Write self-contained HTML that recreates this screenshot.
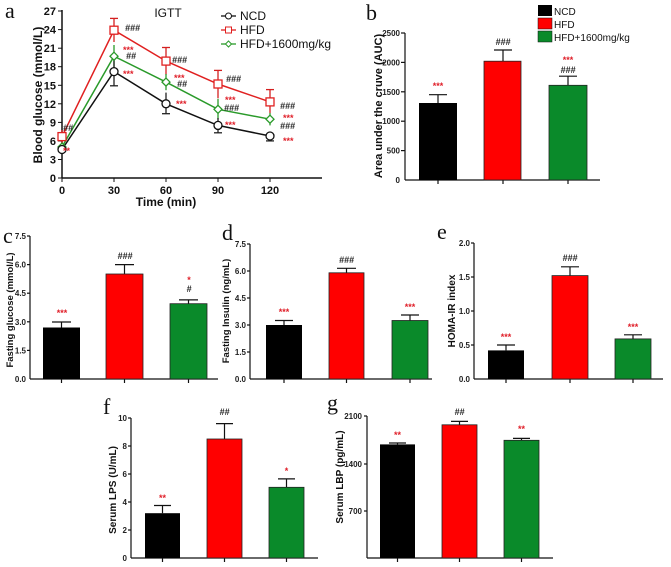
<!DOCTYPE html>
<html><head><meta charset="utf-8"><style>
html,body{margin:0;padding:0;background:#fff;}
svg{display:block;font-family:"Liberation Sans",Arial,sans-serif;}
.t{font-size:8px;font-weight:bold;fill:#222;}
.ta{font-size:11px;font-weight:bold;fill:#111;}
.lab{font-family:"Liberation Serif",serif;font-size:22px;fill:#111;}
.r{fill:#e0202a;font-size:9px;font-weight:bold;}
.k{fill:#222;font-size:9px;font-weight:bold;font-style:italic;}
</style></head><body>
<svg width="671" height="567" viewBox="0 0 671 567">
<!-- Panel a -->
<text class="lab" x="5" y="18">a</text>
<text x="168" y="17" font-size="12" fill="#111" text-anchor="middle">IGTT</text>
<g stroke="#111" stroke-width="1.5" fill="none">
<line x1="62" y1="10" x2="62" y2="178"/><line x1="62" y1="178" x2="322" y2="178"/>
</g>
<g stroke="#111" stroke-width="1">
<line x1="58" y1="11" x2="62" y2="11"/><line x1="58" y1="29.6" x2="62" y2="29.6"/><line x1="58" y1="48.2" x2="62" y2="48.2"/><line x1="58" y1="66.7" x2="62" y2="66.7"/><line x1="58" y1="85.3" x2="62" y2="85.3"/><line x1="58" y1="103.8" x2="62" y2="103.8"/><line x1="58" y1="122.4" x2="62" y2="122.4"/><line x1="58" y1="141" x2="62" y2="141"/><line x1="58" y1="159.5" x2="62" y2="159.5"/><line x1="58" y1="178" x2="62" y2="178"/>
<line x1="62" y1="178" x2="62" y2="182"/><line x1="114" y1="178" x2="114" y2="182"/><line x1="166" y1="178" x2="166" y2="182"/><line x1="218" y1="178" x2="218" y2="182"/><line x1="270" y1="178" x2="270" y2="182"/>
</g>
<g class="ta" text-anchor="end">
<text x="56" y="15">27</text><text x="56" y="33.6">24</text><text x="56" y="52.2">21</text><text x="56" y="70.7">18</text><text x="56" y="89.3">15</text><text x="56" y="107.8">12</text><text x="56" y="126.4">9</text><text x="56" y="145">6</text><text x="56" y="163.5">3</text><text x="56" y="182">0</text>
</g>
<g class="ta" text-anchor="middle">
<text x="62" y="194">0</text><text x="114" y="194">30</text><text x="166" y="194">60</text><text x="218" y="194">90</text><text x="270" y="194">120</text>
</g>
<text x="166" y="206" font-size="12" font-weight="bold" text-anchor="middle" fill="#111">Time (min)</text>
<text transform="translate(42,95) rotate(-90)" font-size="12" font-weight="bold" text-anchor="middle" fill="#111">Blood glucose (mmol/L)</text>
<g stroke="#d42020" stroke-width="1.3">
<line x1="114" y1="18.4" x2="114" y2="42"/><line x1="110" y1="18.4" x2="118" y2="18.4"/>
<line x1="166" y1="47.5" x2="166" y2="74.7"/><line x1="162" y1="47.5" x2="170" y2="47.5"/>
<line x1="218" y1="70.4" x2="218" y2="98.2"/><line x1="214" y1="70.4" x2="222" y2="70.4"/>
<line x1="270" y1="89.6" x2="270" y2="113"/><line x1="266" y1="89.6" x2="274" y2="89.6"/>
<line x1="62" y1="130" x2="62" y2="143"/>
</g>
<g stroke="#2a9a2a" stroke-width="1.3">
<line x1="114" y1="45" x2="114" y2="66.7"/><line x1="166" y1="74" x2="166" y2="90.2"/><line x1="218" y1="98.8" x2="218" y2="119.2"/><line x1="270" y1="113" x2="270" y2="125.4"/>
</g>
<g stroke="#222" stroke-width="1.3">
<line x1="114" y1="56.8" x2="114" y2="85.8"/><line x1="110" y1="85.8" x2="118" y2="85.8"/>
<line x1="166" y1="92.6" x2="166" y2="113.7"/><line x1="162" y1="113.7" x2="170" y2="113.7"/>
<line x1="218" y1="118" x2="218" y2="132.8"/><line x1="214" y1="132.8" x2="222" y2="132.8"/>
<line x1="270" y1="132.2" x2="270" y2="140.9"/><line x1="266" y1="140.9" x2="274" y2="140.9"/>
</g>
<polyline points="62,136.6 114,30.2 166,61.1 218,84 270,101.9" fill="none" stroke="#e02020" stroke-width="1.5"/>
<polyline points="62,147 114,56.2 166,82.1 218,109.3 270,119.2" fill="none" stroke="#2a9a2a" stroke-width="1.5"/>
<polyline points="62,149.5 114,71.6 166,103.8 218,125.4 270,136" fill="none" stroke="#111" stroke-width="1.5"/>
<g fill="#fff" stroke="#e02020" stroke-width="1.3">
<rect x="58" y="132.6" width="8" height="8"/><rect x="110" y="26.2" width="8" height="8"/><rect x="162" y="57.1" width="8" height="8"/><rect x="214" y="80" width="8" height="8"/><rect x="266" y="97.9" width="8" height="8"/>
</g>
<g fill="#fff" stroke="#2a9a2a" stroke-width="1.3">
<polygon points="62,143 66,147 62,151 58,147"/><polygon points="114,52.2 118,56.2 114,60.2 110,56.2"/><polygon points="166,78.1 170,82.1 166,86.1 162,82.1"/><polygon points="218,105.3 222,109.3 218,113.3 214,109.3"/><polygon points="270,115.2 274,119.2 270,123.2 266,119.2"/>
</g>
<g fill="#fff" stroke="#111" stroke-width="1.3">
<circle cx="62" cy="149.5" r="4"/><circle cx="114" cy="71.6" r="4"/><circle cx="166" cy="103.8" r="4"/><circle cx="218" cy="125.4" r="4"/><circle cx="270" cy="136" r="4"/>
</g>
<text class="k" x="125" y="31">###</text>
<text class="r" x="123" y="53">***</text>
<text class="k" x="126" y="59">##</text>
<text class="r" x="123" y="77">***</text>
<text class="k" x="172" y="63">###</text>
<text class="r" x="174" y="81">***</text>
<text class="k" x="177" y="87">##</text>
<text class="r" x="176" y="107">***</text>
<text class="k" x="226" y="82">###</text>
<text class="r" x="225" y="103">***</text>
<text class="k" x="224" y="111">###</text>
<text class="r" x="225" y="128">***</text>
<text class="k" x="280" y="109" font-size="10">###</text>
<text class="r" x="283" y="121">***</text>
<text class="k" x="280" y="129" font-size="10">###</text>
<text class="r" x="283" y="144">***</text>
<text class="k" x="63" y="131">##</text>
<text class="r" x="63" y="154">**</text>
<line x1="221" y1="16" x2="236" y2="16" stroke="#111" stroke-width="1.3"/><circle cx="228.5" cy="16" r="3" fill="#fff" stroke="#111"/>
<text x="240" y="20" font-size="12" fill="#111">NCD</text>
<line x1="221" y1="30" x2="236" y2="30" stroke="#e02020" stroke-width="1.3"/><rect x="225.5" y="27" width="6" height="6" fill="#fff" stroke="#e02020"/>
<text x="240" y="34" font-size="12" fill="#111">HFD</text>
<line x1="221" y1="44" x2="236" y2="44" stroke="#2a9a2a" stroke-width="1.3"/><polygon points="228.5,41 231.5,44 228.5,47 225.5,44" fill="#fff" stroke="#2a9a2a"/>
<text x="240" y="48" font-size="12" fill="#111">HFD+1600mg/kg</text>

<!-- Panel b -->
<text class="lab" x="366" y="20">b</text>
<rect x="538" y="5" width="14" height="11" fill="#000"/><text x="554" y="15" font-size="10" fill="#111">NCD</text>
<rect x="538" y="18" width="14" height="11" fill="#f00" stroke="#111" stroke-width="0.5"/><text x="554" y="28" font-size="10" fill="#111">HFD</text>
<rect x="538" y="31" width="14" height="11" fill="#0a8a2a" stroke="#111" stroke-width="0.5"/><text x="554" y="41" font-size="10" fill="#111">HFD+1600mg/kg</text>
<g stroke="#111" stroke-width="1.2">
<line x1="405" y1="33" x2="405" y2="180"/><line x1="405" y1="180" x2="600" y2="180"/>
<line x1="401" y1="33" x2="405" y2="33"/><line x1="401" y1="62.4" x2="405" y2="62.4"/><line x1="401" y1="91.8" x2="405" y2="91.8"/><line x1="401" y1="121.2" x2="405" y2="121.2"/><line x1="401" y1="150.6" x2="405" y2="150.6"/>
<line x1="438" y1="180" x2="438" y2="184"/><line x1="503" y1="180" x2="503" y2="184"/><line x1="568" y1="180" x2="568" y2="184"/>
<line x1="438" y1="94.7" x2="438" y2="103"/><line x1="429" y1="94.7" x2="447" y2="94.7"/>
<line x1="503" y1="50" x2="503" y2="61.2"/><line x1="494" y1="50" x2="512" y2="50"/>
<line x1="568" y1="76.2" x2="568" y2="85.3"/><line x1="559" y1="76.2" x2="577" y2="76.2"/>
</g>
<g class="t" text-anchor="end">
<text x="400" y="36">2500</text><text x="400" y="65.4">2000</text><text x="400" y="94.8">1500</text><text x="400" y="124.2">1000</text><text x="400" y="153.6">500</text><text x="400" y="183">0</text>
</g>
<rect x="419" y="103" width="38" height="77" fill="#000"/>
<rect x="484" y="61.2" width="37" height="118.8" fill="#f00" stroke="#222" stroke-width="0.8"/>
<rect x="549" y="85.3" width="38" height="94.7" fill="#0a8a2a" stroke="#222" stroke-width="0.8"/>
<text class="r" x="438" y="89" text-anchor="middle">***</text>
<text class="k" x="503" y="45" text-anchor="middle" font-size="10">###</text>
<text class="r" x="568" y="63" text-anchor="middle">***</text>
<text class="k" x="568" y="73" text-anchor="middle" font-size="10">###</text>
<text transform="translate(382,106) rotate(-90)" font-size="11" font-weight="bold" text-anchor="middle" fill="#111">Area under the cruve (AUC)</text>

<!-- Panel c -->
<text class="lab" x="3" y="243">c</text>
<g stroke="#111" stroke-width="1.2">
<line x1="30" y1="236" x2="30" y2="379"/><line x1="30" y1="379" x2="218" y2="379"/>
<line x1="27" y1="236" x2="30" y2="236"/><line x1="27" y1="264.6" x2="30" y2="264.6"/><line x1="27" y1="293.2" x2="30" y2="293.2"/><line x1="27" y1="321.8" x2="30" y2="321.8"/><line x1="27" y1="350.4" x2="30" y2="350.4"/>
<line x1="61.5" y1="379" x2="61.5" y2="383"/><line x1="124.5" y1="379" x2="124.5" y2="383"/><line x1="188.5" y1="379" x2="188.5" y2="383"/>
<line x1="61.5" y1="322" x2="61.5" y2="327.5"/><line x1="52" y1="322" x2="71" y2="322"/>
<line x1="124.5" y1="264.6" x2="124.5" y2="274"/><line x1="115" y1="264.6" x2="134" y2="264.6"/>
<line x1="188.5" y1="299.9" x2="188.5" y2="303.7"/><line x1="179" y1="299.9" x2="198" y2="299.9"/>
</g>
<g class="t" text-anchor="end">
<text x="26" y="239">7.5</text><text x="26" y="267.6">6.0</text><text x="26" y="296.2">4.5</text><text x="26" y="324.8">3.0</text><text x="26" y="353.4">1.5</text><text x="26" y="382">0.0</text>
</g>
<rect x="43" y="327.5" width="37" height="51.5" fill="#000"/>
<rect x="106" y="274" width="37" height="105" fill="#f00" stroke="#222" stroke-width="0.8"/>
<rect x="170" y="303.7" width="37" height="75.3" fill="#0a8a2a" stroke="#222" stroke-width="0.8"/>
<text class="r" x="62" y="316" text-anchor="middle">***</text>
<text class="k" x="125" y="259" text-anchor="middle" font-size="10">###</text>
<text class="r" x="189" y="283" text-anchor="middle">*</text>
<text class="k" x="189" y="292" text-anchor="middle" font-size="10">#</text>
<text transform="translate(13,310) rotate(-90)" font-size="9.5" font-weight="bold" text-anchor="middle" fill="#111">Fasting glucose (mmol/L)</text>

<!-- Panel d -->
<text class="lab" x="222" y="240">d</text>
<g stroke="#111" stroke-width="1.2">
<line x1="250" y1="244" x2="250" y2="379"/><line x1="250" y1="379" x2="432" y2="379"/>
<line x1="247" y1="244" x2="250" y2="244"/><line x1="247" y1="271" x2="250" y2="271"/><line x1="247" y1="298" x2="250" y2="298"/><line x1="247" y1="325" x2="250" y2="325"/><line x1="247" y1="352" x2="250" y2="352"/>
<line x1="284" y1="379" x2="284" y2="383"/><line x1="346.5" y1="379" x2="346.5" y2="383"/><line x1="410" y1="379" x2="410" y2="383"/>
<line x1="284" y1="320.5" x2="284" y2="325"/><line x1="275" y1="320.5" x2="293" y2="320.5"/>
<line x1="346.5" y1="268.3" x2="346.5" y2="272.8"/><line x1="337" y1="268.3" x2="356" y2="268.3"/>
<line x1="410" y1="315" x2="410" y2="320.5"/><line x1="401" y1="315" x2="419" y2="315"/>
</g>
<g class="t" text-anchor="end">
<text x="246" y="247">7.5</text><text x="246" y="274">6.0</text><text x="246" y="301">4.5</text><text x="246" y="328">3.0</text><text x="246" y="355">1.5</text><text x="246" y="382">0.0</text>
</g>
<rect x="266" y="325" width="36" height="54" fill="#000"/>
<rect x="329" y="272.8" width="35" height="106.2" fill="#f00" stroke="#222" stroke-width="0.8"/>
<rect x="392" y="320.5" width="36" height="58.5" fill="#0a8a2a" stroke="#222" stroke-width="0.8"/>
<text class="r" x="284" y="315" text-anchor="middle">***</text>
<text class="k" x="346.5" y="263" text-anchor="middle" font-size="10">###</text>
<text class="r" x="410" y="310" text-anchor="middle">***</text>
<text transform="translate(229,311) rotate(-90)" font-size="9.5" font-weight="bold" text-anchor="middle" fill="#111">Fasting Insulin (ng/mL)</text>

<!-- Panel e -->
<text class="lab" x="437" y="239">e</text>
<g stroke="#111" stroke-width="1.2">
<line x1="474" y1="243" x2="474" y2="379"/><line x1="474" y1="379" x2="663" y2="379"/>
<line x1="471" y1="243" x2="474" y2="243"/><line x1="471" y1="277" x2="474" y2="277"/><line x1="471" y1="311" x2="474" y2="311"/><line x1="471" y1="345" x2="474" y2="345"/>
<line x1="506" y1="379" x2="506" y2="383"/><line x1="570" y1="379" x2="570" y2="383"/><line x1="633" y1="379" x2="633" y2="383"/>
<line x1="506" y1="345" x2="506" y2="350.4"/><line x1="497" y1="345" x2="515" y2="345"/>
<line x1="570" y1="266.8" x2="570" y2="275.6"/><line x1="561" y1="266.8" x2="579" y2="266.8"/>
<line x1="633" y1="334.8" x2="633" y2="338.9"/><line x1="624" y1="334.8" x2="642" y2="334.8"/>
</g>
<g class="t" text-anchor="end">
<text x="470" y="246">2.0</text><text x="470" y="280">1.5</text><text x="470" y="314">1.0</text><text x="470" y="348">0.5</text><text x="470" y="382">0.0</text>
</g>
<rect x="488" y="350.4" width="36" height="28.6" fill="#000"/>
<rect x="552" y="275.6" width="36" height="103.4" fill="#f00" stroke="#222" stroke-width="0.8"/>
<rect x="615" y="338.9" width="36" height="40.1" fill="#0a8a2a" stroke="#222" stroke-width="0.8"/>
<text class="r" x="506" y="340" text-anchor="middle">***</text>
<text class="k" x="570" y="261" text-anchor="middle" font-size="10">###</text>
<text class="r" x="633" y="330" text-anchor="middle">***</text>
<text transform="translate(455,311) rotate(-90)" font-size="10" font-weight="bold" text-anchor="middle" fill="#111">HOMA-IR index</text>

<!-- Panel f -->
<text class="lab" x="103" y="414">f</text>
<g stroke="#111" stroke-width="1.2">
<line x1="131" y1="418" x2="131" y2="558"/><line x1="131" y1="558" x2="318" y2="558"/>
<line x1="128" y1="418" x2="131" y2="418"/><line x1="128" y1="446" x2="131" y2="446"/><line x1="128" y1="474" x2="131" y2="474"/><line x1="128" y1="502" x2="131" y2="502"/><line x1="128" y1="530" x2="131" y2="530"/>
<line x1="162.5" y1="558" x2="162.5" y2="562"/><line x1="224.5" y1="558" x2="224.5" y2="562"/><line x1="286.5" y1="558" x2="286.5" y2="562"/>
<line x1="162.5" y1="505.5" x2="162.5" y2="513.2"/><line x1="154" y1="505.5" x2="171" y2="505.5"/>
<line x1="224.5" y1="423.6" x2="224.5" y2="439"/><line x1="216" y1="423.6" x2="233" y2="423.6"/>
<line x1="286.5" y1="478.9" x2="286.5" y2="487.3"/><line x1="278" y1="478.9" x2="295" y2="478.9"/>
</g>
<g class="t" text-anchor="end">
<text x="127" y="421">10</text><text x="127" y="449">8</text><text x="127" y="477">6</text><text x="127" y="505">4</text><text x="127" y="533">2</text><text x="127" y="561">0</text>
</g>
<rect x="145" y="513.2" width="35" height="44.8" fill="#000"/>
<rect x="207" y="439" width="35" height="119" fill="#f00" stroke="#222" stroke-width="0.8"/>
<rect x="269" y="487.3" width="35" height="70.7" fill="#0a8a2a" stroke="#222" stroke-width="0.8"/>
<text class="r" x="162.5" y="501" text-anchor="middle">**</text>
<text class="k" x="224.5" y="415" text-anchor="middle" font-size="10">##</text>
<text class="r" x="286.5" y="474" text-anchor="middle">*</text>
<text transform="translate(116,490) rotate(-90)" font-size="10" font-weight="bold" text-anchor="middle" fill="#111">Serum LPS (U/mL)</text>

<!-- Panel g -->
<text class="lab" x="327" y="410">g</text>
<g stroke="#111" stroke-width="1.2">
<line x1="367" y1="416" x2="367" y2="558"/><line x1="367" y1="558" x2="553" y2="558"/>
<line x1="364" y1="416" x2="367" y2="416"/><line x1="364" y1="464" x2="367" y2="464"/><line x1="364" y1="511" x2="367" y2="511"/>
<line x1="397.5" y1="558" x2="397.5" y2="562"/><line x1="459.5" y1="558" x2="459.5" y2="562"/><line x1="521.5" y1="558" x2="521.5" y2="562"/>
<line x1="397.5" y1="443" x2="397.5" y2="444.4"/><line x1="389" y1="443" x2="406" y2="443"/>
<line x1="459.5" y1="421.4" x2="459.5" y2="424.8"/><line x1="451" y1="421.4" x2="468" y2="421.4"/>
<line x1="521.5" y1="438.4" x2="521.5" y2="440.3"/><line x1="513" y1="438.4" x2="530" y2="438.4"/>
</g>
<g class="t" text-anchor="end">
<text x="362" y="419">2100</text><text x="362" y="467">1400</text><text x="362" y="514">700</text>
</g>
<rect x="380" y="444.4" width="35" height="113.6" fill="#000"/>
<rect x="442" y="424.8" width="35" height="133.2" fill="#f00" stroke="#222" stroke-width="0.8"/>
<rect x="504" y="440.3" width="35" height="117.7" fill="#0a8a2a" stroke="#222" stroke-width="0.8"/>
<text class="r" x="397.5" y="438" text-anchor="middle">**</text>
<text class="k" x="459.5" y="415" text-anchor="middle" font-size="10">##</text>
<text class="r" x="521.5" y="432" text-anchor="middle">**</text>
<text transform="translate(343,477) rotate(-90)" font-size="10" font-weight="bold" text-anchor="middle" fill="#111">Serum LBP (pg/mL)</text>
</svg>
</body></html>
